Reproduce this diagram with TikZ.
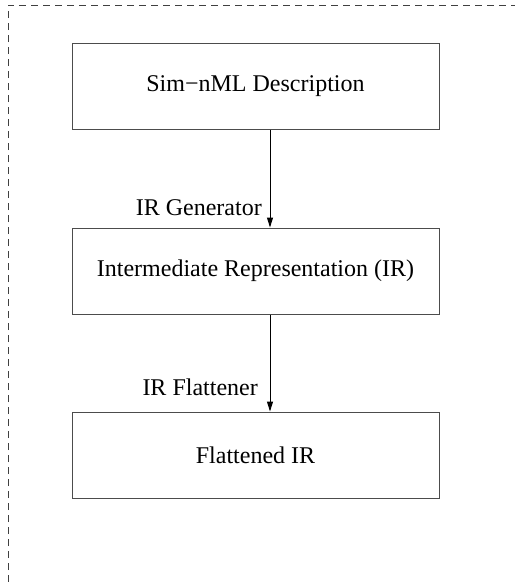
\documentclass[tikz,border=0pt]{standalone}
\usepackage{fontspec}
\setmainfont{Liberation Serif}
\usetikzlibrary{arrows.meta}
\begin{document}
\begin{tikzpicture}[x=1pt,y=-1pt,
  stagebox/.style={draw=black!70,line width=1pt,minimum width=367pt,minimum height=86pt,inner sep=0pt,font=\fontsize{24}{28}\selectfont},
  flow/.style={draw=black,line width=1pt,-{Triangle[length=10pt,width=6pt]}},
  steplabel/.style={anchor=east,font=\fontsize{24}{28}\selectfont,inner sep=0pt},
  frame/.style={draw=black!75,line width=0.9pt,dash pattern=on 7pt off 5pt}]
\useasboundingbox (0,0) rectangle (515,582);
\coordinate (fa) at (8,582);
\coordinate (fb) at (8,5);
\coordinate (fc) at (515,5);
\draw[frame] (fa) -- (fb) -- (fc);
\node[stagebox] (b1) at (255.5,86) {Sim−nML Description};
\node[stagebox] (b2) at (255.5,271) {Intermediate Representation (IR)};
\node[stagebox] (b3) at (255.5,455) {Flattened IR};
\coordinate (ax) at (270,0);
\draw[flow] (b1.south -| ax) -- (b2.north -| ax);
\draw[flow] (b2.south -| ax) -- (b3.north -| ax);
\node[steplabel] (l1) at (262,208) {IR Generator};
\node[steplabel] (l2) at (258,387) {IR Flattener};
\end{tikzpicture}
\end{document}
